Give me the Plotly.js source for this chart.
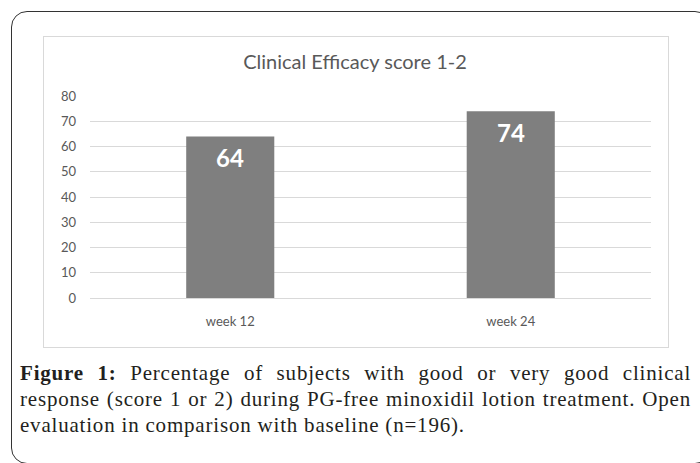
<!DOCTYPE html>
<html>
<head>
<meta charset="utf-8">
<script src="https://cdn.plot.ly/plotly-3.0.1.min.js"></script>
<style>
  html, body { margin: 0; padding: 0; width: 700px; height: 463px; overflow: hidden; background: #ffffff; }
  #outer { position: absolute; left: 11px; top: 11px; width: 700px; height: 453px; box-sizing: border-box;
           border: 1.5px solid #333333; border-radius: 16px; }
  #inner { position: absolute; left: 43px; top: 36px; width: 626px; height: 312px; box-sizing: border-box;
           border: 1px solid #d9d9d9; }
  #chart { position: absolute; left: 0; top: 0; width: 700px; height: 463px; }
  #caption { position: absolute; left: 20px; top: 360px; width: 671px;
             font-family: "Liberation Serif", "DejaVu Serif", serif; font-size: 21px; line-height: 26px;
             letter-spacing: 0.8px; color: #231f20; }
  #caption .j { text-align: justify; text-align-last: justify; white-space: nowrap; }
  #caption .l { text-align: left; white-space: nowrap; }
</style>
</head>
<body>
<div id="outer"></div>
<div id="inner"></div>
<div id="chart"></div>
<div id="caption">
  <div class="j"><b>Figure 1:</b> Percentage of subjects with good or very good clinical</div>
  <div class="j">response (score 1 or 2) during PG-free minoxidil lotion treatment. Open</div>
  <div class="l">evaluation in comparison with baseline (n=196).</div>
</div>
<script>
const categories = ["week 12", "week 24"];
const values = [64, 74];
const yTicks = [0, 10, 20, 30, 40, 50, 60, 70, 80];
const chartTitle = "Clinical Efficacy score 1-2";

const trace = {
  type: "bar",
  x: categories,
  y: values,
  marker: { color: "#7f7f7f", line: { width: 0 } },
  hoverinfo: "none"
};

const labels = categories.map((c, i) => ({
  x: c, y: values[i], xref: "x", yref: "y",
  text: String(values[i]), showarrow: false,
  yanchor: "middle", yshift: -21,
  font: { family: "Lato, 'Open Sans', sans-serif", size: 24, color: "#ffffff", weight: "bold" }
}));

const layout = {
  width: 700, height: 463,
  paper_bgcolor: "rgba(0,0,0,0)",
  plot_bgcolor: "rgba(0,0,0,0)",
  margin: { l: 90, r: 49, t: 96, b: 165, pad: 0 },
  showlegend: false,
  bargap: 0.686,
  title: {
    text: chartTitle,
    x: 355 / 700, xanchor: "center",
    y: 1 - 62 / 463, yanchor: "middle",
    font: { family: "Lato, 'Open Sans', sans-serif", size: 20, color: "#595959" }
  },
  xaxis: {
    type: "category",
    showgrid: false,
    showline: true, linecolor: "#d9d9d9", linewidth: 1,
    ticks: "",
    ticklabelstandoff: 11,
    tickfont: { family: "Lato, 'Open Sans', sans-serif", size: 13, color: "#595959" },
    fixedrange: true
  },
  yaxis: {
    range: [0, 80],
    tickvals: yTicks,
    ticktext: yTicks.map(String),
    showgrid: true, gridcolor: "#d9d9d9", gridwidth: 1,
    zeroline: false,
    showline: false,
    ticks: "",
    ticklabelstandoff: 13,
    tickfont: { family: "Lato, 'Open Sans', sans-serif", size: 13, color: "#595959" },
    fixedrange: true
  },
  annotations: labels
};

Plotly.newPlot("chart", [trace], layout, { displayModeBar: false, staticPlot: true });
</script>
</body>
</html>
